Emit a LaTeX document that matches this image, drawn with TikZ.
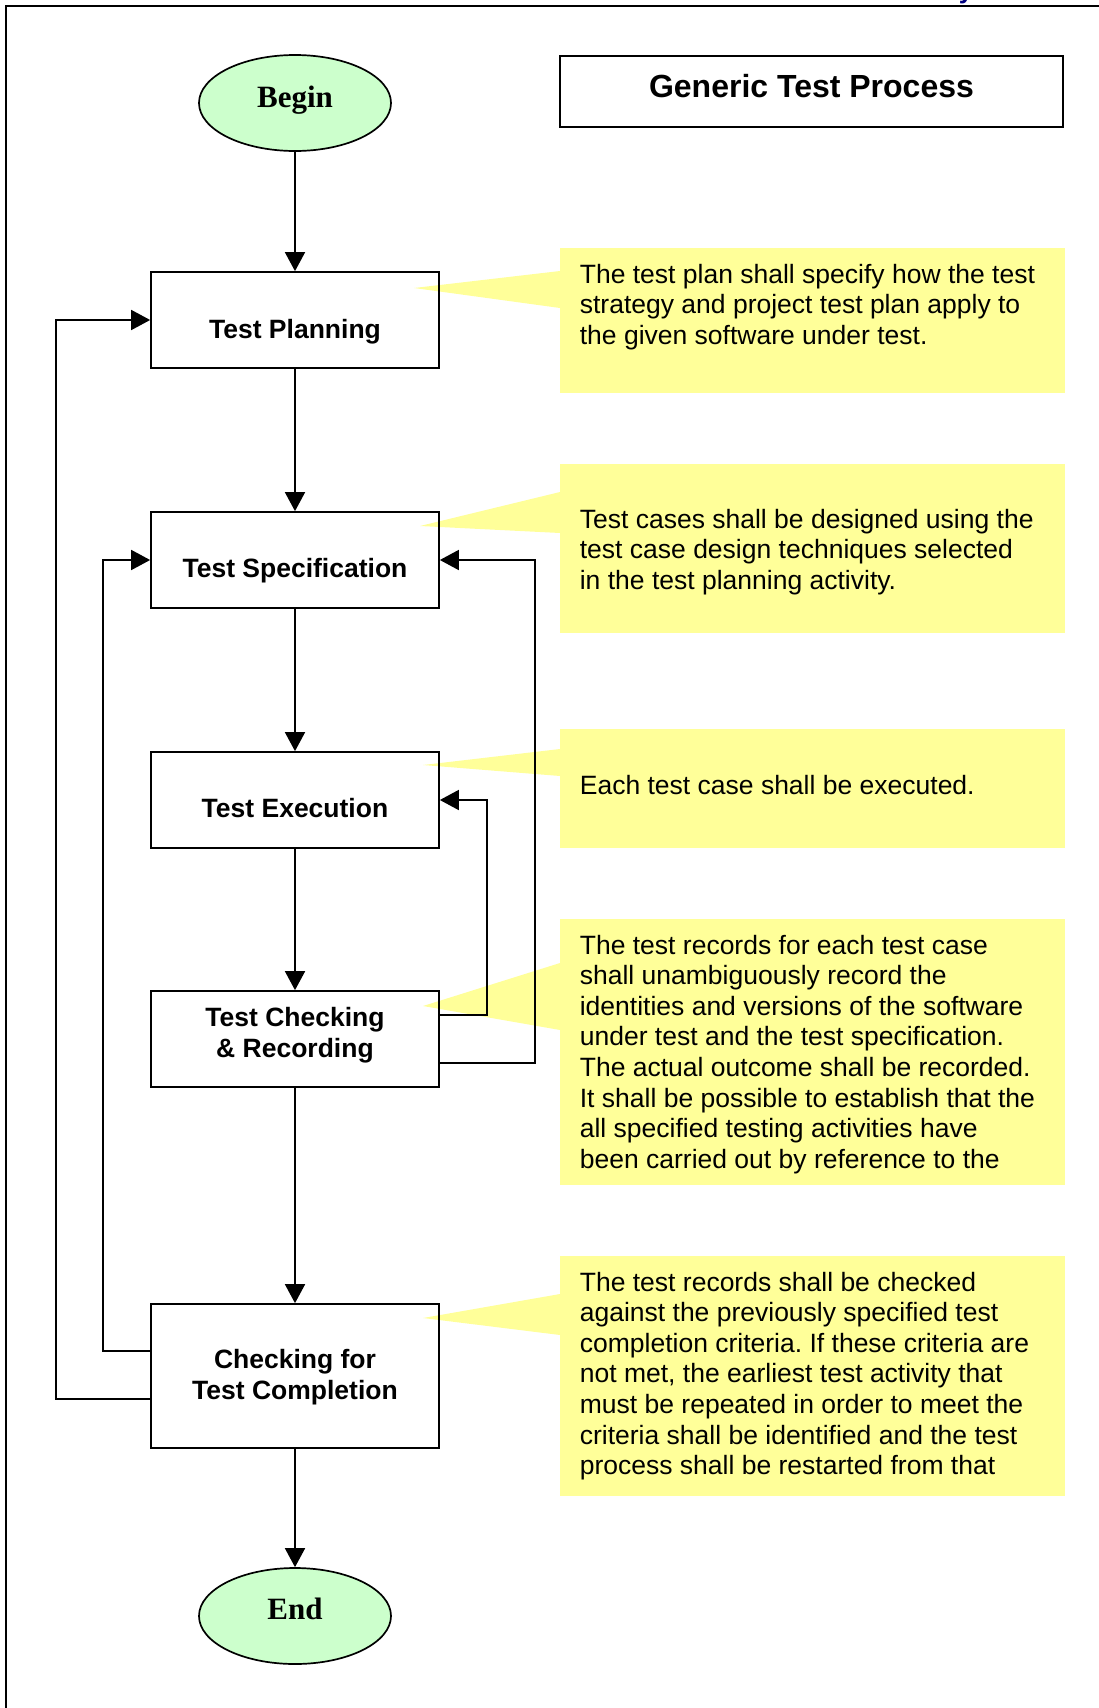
\documentclass[tikz,border=0pt]{standalone}
\usepackage{fontspec}
\setmainfont{Liberation Sans}
\newfontfamily\termfont{Liberation Serif}
\usetikzlibrary{arrows.meta,shapes.geometric}
\definecolor{termgreen}{HTML}{CCFFCC}
\definecolor{notefill}{HTML}{FFFF99}
\definecolor{headblue}{HTML}{000080}
\frenchspacing
% left-aligned block of lines whose base is the first baseline
\newcommand\notelines[1]{\vtop{\fontsize{26.5}{30.6}\selectfont\baselineskip=30.6pt
  \halign{##\hfil\cr #1\crcr}}}
% centred block of two lines whose base is the first baseline
\newcommand\twolines[2]{\vtop{\fontsize{26.5}{31}\selectfont\bfseries\baselineskip=31pt
  \halign{\hfil##\hfil\cr #1\cr #2\cr}}}
\begin{document}
\begin{tikzpicture}[x=1pt,y=-1pt,line width=1.7pt,
  terminal/.style={ellipse,draw,fill=termgreen,minimum width=192pt,minimum height=96pt,inner sep=0pt},
  stepbox/.style={rectangle,draw,minimum width=288pt,inner sep=0pt},
  steplabel/.style={font=\fontsize{26.5}{31}\selectfont\bfseries,anchor=base,inner sep=0pt},
  termlabel/.style={font=\termfont\fontsize{31}{36}\selectfont\bfseries,anchor=base,inner sep=0pt},
  note/.style={rectangle,fill=notefill,anchor=north west,inner sep=0pt,minimum width=505pt},
  notetext/.style={anchor=base west,inner sep=0pt},
  flow/.style={-{Triangle[length=19pt,width=20pt]}},
]
\useasboundingbox (0,0) rectangle (1099,1708);

% page frame and the running head above it
\draw (6,1708) -- (6,6) -- (1099,6);
\node[anchor=base,inner sep=0pt,text=headblue,font=\fontsize{26}{30}\selectfont\bfseries] (head) at (966,-2) {y};

% yellow notes with their pointers
\node[note,minimum height=145pt] (n1) at (559,247) {};
\node[note,minimum height=169pt] (n2) at (559,463) {};
\node[note,minimum height=119pt] (n3) at (559,728) {};
\node[note,minimum height=266pt] (n4) at (559,918) {};
\node[note,minimum height=240pt] (n5) at (559,1255) {};
\fill[notefill] (414,288) -- (560,271) -- (560,308) -- cycle;
\fill[notefill] (420,526) -- (560,492) -- (560,533) -- cycle;
\fill[notefill] (423,765) -- (560,749) -- (560,776) -- cycle;
\fill[notefill] (423,1006) -- (560,963) -- (560,1030) -- cycle;
\fill[notefill] (423,1318) -- (560,1294) -- (560,1335) -- cycle;

\node[notetext] (t1) at (579,283) {\notelines{The test plan shall specify how the test\cr
strategy and project test plan apply to\cr
the given software under test.}};
\node[notetext] (t2) at (579,528) {\notelines{Test cases shall be designed using the\cr
test case design techniques selected\cr
in the test planning activity.}};
\node[notetext] (t3) at (579,794) {\notelines{Each test case shall be executed.}};
\node[notetext] (t4) at (579,954) {\notelines{The test records for each test case\cr
shall unambiguously record the\cr
identities and versions of the software\cr
under test and the test specification.\cr
The actual outcome shall be recorded.\cr
It shall be possible to establish that the\cr
all specified testing activities have\cr
been carried out by reference to the}};
\node[notetext] (t5) at (579,1291) {\notelines{The test records shall be checked\cr
against the previously specified test\cr
completion criteria. If these criteria are\cr
not met, the earliest test activity that\cr
must be repeated in order to meet the\cr
criteria shall be identified and the test\cr
process shall be restarted from that}};

% title
\node[rectangle,draw,minimum width=503pt,minimum height=71pt,inner sep=0pt] (title) at (811.5,91.5) {};
\node[anchor=base,inner sep=0pt,font=\fontsize{32}{38}\selectfont\bfseries] (titletext) at (811.5,97) {Generic Test Process};

% process steps
\node[terminal] (begin) at (295,103) {};
\node[termlabel] at (295,107) {Begin};
\node[stepbox,minimum height=96pt] (plan) at (295,320) {};
\node[steplabel] at (295,338) {Test Planning};
\node[stepbox,minimum height=96pt] (spec) at (295,560) {};
\node[steplabel] at (295,577) {Test Specification};
\node[stepbox,minimum height=96pt] (exec) at (295,800) {};
\node[steplabel] at (295,817) {Test Execution};
\node[stepbox,minimum height=96pt] (chk) at (295,1039) {};
\node[anchor=base,inner sep=0pt] at (295,1026) {\twolines{Test Checking}{\& Recording}};
\node[stepbox,minimum height=144pt] (comp) at (295,1376) {};
\node[anchor=base,inner sep=0pt] at (295,1368) {\twolines{Checking for}{Test Completion}};
\node[terminal] (end) at (295,1616) {};
\node[termlabel] at (295,1619) {End};

% main flow
\draw[flow] (begin) -- (plan);
\draw[flow] (plan) -- (spec);
\draw[flow] (spec) -- (exec);
\draw[flow] (exec) -- (chk);
\draw[flow] (chk) -- (comp);
\draw[flow] (comp) -- (end);

% feedback loops
\coordinate (l1) at (56,1399);
\coordinate (l2) at (103,1351);
\coordinate (l3) at (535,1063);
\coordinate (l4) at (487,1015);
\draw[flow] (comp.west |- l1) -- (l1) |- (plan.west);
\draw[flow] (comp.west |- l2) -- (l2) |- (spec.west);
\draw[flow] (chk.east |- l3) -- (l3) |- (spec.east);
\draw[flow] (chk.east |- l4) -- (l4) |- (exec.east);
\end{tikzpicture}
\end{document}
